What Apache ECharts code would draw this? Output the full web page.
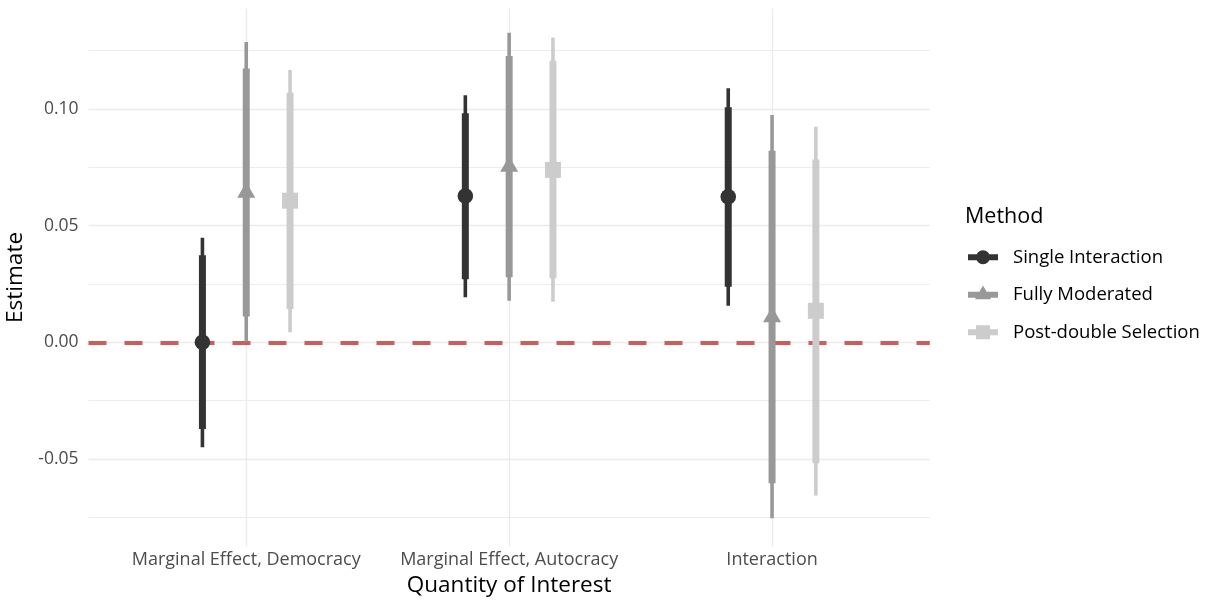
<!DOCTYPE html>
<html>
<head>
<meta charset="utf-8">
<script src="https://cdn.jsdelivr.net/npm/echarts@6/dist/echarts.min.js"></script>
<style>
  html, body { margin: 0; padding: 0; background: #ffffff; }
  #chart { width: 1209px; height: 600px; }
</style>
</head>
<body>
<div id="chart"></div>
<script>
// Quantities of interest (x categories)
const categories = ['Marginal Effect, Democracy', 'Marginal Effect, Autocracy', 'Interaction'];

// Estimation methods (legend entries)
const methods = ['Single Interaction', 'Fully Moderated', 'Post-double Selection'];
const methodColors = ['#333333', '#989898', '#cccccc'];

// Point estimates and interval bounds, one value per category
const singleEst  = [0.0000, 0.0627, 0.0624];
const singleLo90 = [-0.0372, 0.0270, 0.0238];
const singleHi90 = [0.0373, 0.0982, 0.1007];
const singleLo95 = [-0.0450, 0.0193, 0.0157];
const singleHi95 = [0.0448, 0.1059, 0.1089];

const fullyEst  = [0.0642, 0.0753, 0.0108];
const fullyLo90 = [0.0110, 0.0279, -0.0604];
const fullyHi90 = [0.1174, 0.1227, 0.0821];
const fullyLo95 = [0.0003, 0.0178, -0.0754];
const fullyHi95 = [0.1287, 0.1327, 0.0974];

const postEst  = [0.0607, 0.0739, 0.0135];
const postLo90 = [0.0143, 0.0274, -0.0519];
const postHi90 = [0.1070, 0.1207, 0.0784];
const postLo95 = [0.0043, 0.0174, -0.0657];
const postHi95 = [0.1167, 0.1307, 0.0924];

// Axis ticks
const yMajorTicks = [-0.05, 0, 0.05, 0.10];
const yTickLabels = ['-0.05', '0.00', '0.05', '0.10'];
const yMinorTicks = [-0.075, -0.025, 0.025, 0.075, 0.125];
const referenceLine = 0;

const FONT = '"Open Sans", "Noto Sans", sans-serif';
const dodge = [-1 / 6, 0, 1 / 6];
const symbolKinds = ['circle', 'triangle', 'square'];

const methodData = [
  [singleEst, singleLo90, singleHi90, singleLo95, singleHi95],
  [fullyEst, fullyLo90, fullyHi90, fullyLo95, fullyHi95],
  [postEst, postLo90, postHi90, postLo95, postHi95]
];

function buildRows(mi) {
  const [est, lo90, hi90, lo95, hi95] = methodData[mi];
  return categories.map((c, ci) => [ci + dodge[mi], est[ci], lo90[ci], hi90[ci], lo95[ci], hi95[ci]]);
}

function makeRender(mi) {
  const color = methodColors[mi];
  const kind = symbolKinds[mi];
  return function (params, api) {
    const x = api.value(0);
    const c = api.coord([x, api.value(1)]);
    const lo90 = api.coord([x, api.value(2)]);
    const hi90 = api.coord([x, api.value(3)]);
    const lo95 = api.coord([x, api.value(4)]);
    const hi95 = api.coord([x, api.value(5)]);
    const px = c[0], py = c[1];
    let marker;
    if (kind === 'circle') {
      marker = { type: 'circle', shape: { cx: px, cy: py, r: 7.8 }, style: { fill: color } };
    } else if (kind === 'triangle') {
      const half = 9, r = 10.39;
      marker = { type: 'polygon', shape: { points: [[px, py - r], [px + half, py + r / 2], [px - half, py + r / 2]] }, style: { fill: color } };
    } else {
      marker = { type: 'rect', shape: { x: px - 8, y: py - 8, width: 16, height: 16 }, style: { fill: color } };
    }
    return {
      type: 'group',
      children: [
        { type: 'line', shape: { x1: px, y1: lo95[1], x2: px, y2: hi95[1] }, style: { stroke: color, lineWidth: 3.6, lineCap: 'butt' } },
        { type: 'line', shape: { x1: px, y1: lo90[1], x2: px, y2: hi90[1] }, style: { stroke: color, lineWidth: 7, lineCap: 'butt' } },
        marker
      ]
    };
  };
}

// Legend keys: thick bar with the method's marker on top
const keyPad = 'M0,0L0.01,0Z M0,18.5L0.01,18.5Z ';
const keyBar = 'M0,6.25H30V12.25H0Z ';
const legendIcons = [
  'path://' + keyPad + keyBar + 'M8,9.25A7,7 0 1,1 22,9.25A7,7 0 1,1 8,9.25Z',
  'path://' + keyPad + keyBar + 'M15,0.01L23,13.87L7,13.87Z',
  'path://' + keyPad + keyBar + 'M8,2.25H22V16.25H8Z'
];

const gridColor = '#ebebeb';
const gridLines = []
  .concat(yMajorTicks.map(v => ({ yAxis: v, lineStyle: { color: gridColor, width: 1.3, type: 'solid' } })))
  .concat(yMinorTicks.map(v => ({ yAxis: v, lineStyle: { color: gridColor, width: 0.9, type: 'solid' } })))
  .concat(categories.map((c, i) => ({ xAxis: i, lineStyle: { color: gridColor, width: 1.3, type: 'solid' } })));

const chart = echarts.init(document.getElementById('chart'), null, { renderer: 'canvas' });

const option = {
  animation: false,
  backgroundColor: '#ffffff',
  textStyle: { fontFamily: FONT },
  title: {
    text: 'Method',
    left: 960,
    top: 201,
    textStyle: { fontFamily: FONT, fontSize: 21.5, fontWeight: 'normal', color: '#000000' }
  },
  legend: {
    orient: 'vertical',
    left: 963,
    top: 242.75,
    itemWidth: 50,
    itemHeight: 18.5,
    itemGap: 18.5,
    symbolKeepAspect: true,
    textStyle: { fontFamily: FONT, fontSize: 18.5, color: '#000000', lineHeight: 18.5 },
    data: methods.map((m, i) => ({ name: m, icon: legendIcons[i] }))
  },
  grid: {
    left: 88.5,
    right: 279.2,
    top: 8.45,
    bottom: 53.6,
    containLabel: false,
    outerBoundsMode: 'none'
  },
  xAxis: {
    type: 'value',
    min: -0.6,
    max: 2.6,
    interval: 0.2,
    name: 'Quantity of Interest',
    nameLocation: 'middle',
    nameGap: 28,
    nameTextStyle: { fontFamily: FONT, fontSize: 22.5, color: '#000000' },
    axisLine: { show: false },
    axisTick: { show: false },
    splitLine: { show: false },
    axisLabel: {
      margin: 4,
      fontFamily: FONT,
      fontSize: 18,
      color: '#4d4d4d',
      showMinLabel: true,
      showMaxLabel: true,
      formatter: function (v) {
        const i = Math.round(v);
        return Math.abs(v - i) < 1e-6 && i >= 0 && i < categories.length ? categories[i] : '';
      }
    }
  },
  yAxis: {
    type: 'value',
    min: -0.0875,
    max: 0.1431,
    interval: 0.0125,
    name: 'Estimate',
    nameLocation: 'middle',
    nameGap: 56,
    nameTextStyle: { fontFamily: FONT, fontSize: 22.5, color: '#000000' },
    axisLine: { show: false },
    axisTick: { show: false },
    splitLine: { show: false },
    axisLabel: {
      margin: 10,
      fontFamily: FONT,
      fontSize: 17.5,
      color: '#4d4d4d',
      formatter: function (v) {
        const i = yMajorTicks.findIndex(t => Math.abs(t - v) < 1e-6);
        return i >= 0 ? yTickLabels[i] : '';
      }
    }
  },
  series: [
    {
      name: 'grid-lines',
      type: 'line',
      data: [],
      z: 0,
      silent: true,
      markLine: { z: 0, silent: true, symbol: 'none', precision: 6, label: { show: false }, data: gridLines, animation: false }
    },
    {
      name: 'reference',
      type: 'line',
      data: [],
      z: 1,
      silent: true,
      markLine: {
        z: 1,
        silent: true,
        symbol: 'none',
        precision: 6,
        label: { show: false },
        animation: false,
        data: [{ yAxis: referenceLine, lineStyle: { color: '#cd5c5c', width: 4, type: [18, 18] } }]
      }
    }
  ].concat(methods.map((m, mi) => ({
    name: m,
    type: 'custom',
    z: 3 + mi,
    itemStyle: { color: methodColors[mi] },
    renderItem: makeRender(mi),
    encode: { x: 0, y: 1 },
    data: buildRows(mi)
  })))
};

chart.setOption(option);
</script>
</body>
</html>
